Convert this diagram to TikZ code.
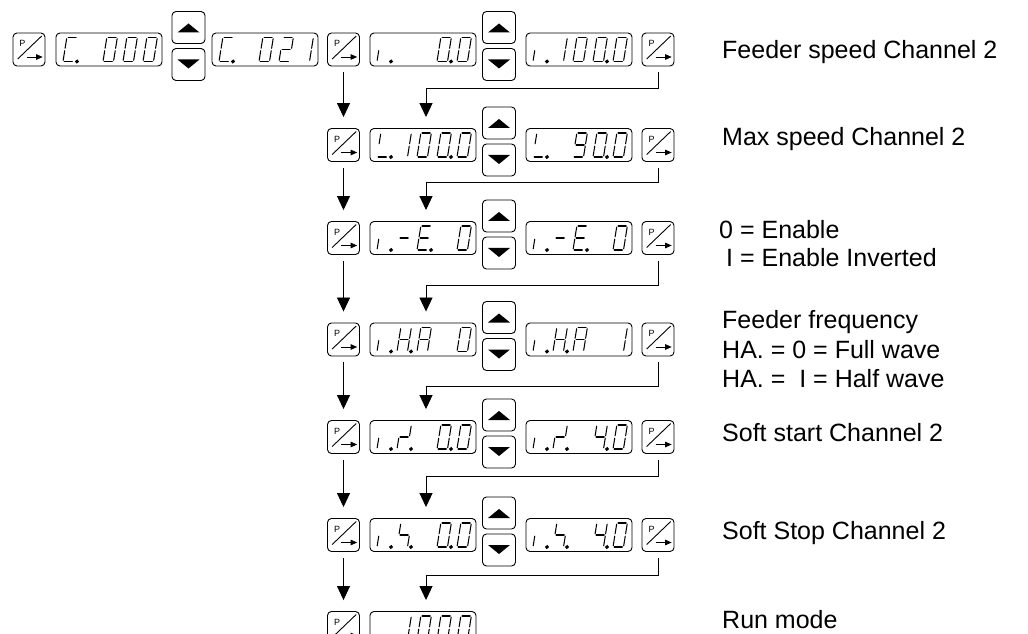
\documentclass[tikz,border=0pt]{standalone}
\usepackage{fontspec}
\setmainfont{Liberation Sans}
\usetikzlibrary{arrows.meta,calc}

\tikzset{
  box/.style={draw, rounded corners=4bp, line width=0.9bp, inner sep=0pt},
  pbtn/.style={box, minimum width=32bp, minimum height=33bp},
  disp/.style={box, minimum width=106bp, minimum height=33bp},
  udbtn/.style={box, minimum width=33bp, minimum height=32bp},
  thinl/.style={line width=0.9bp},
  pfont/.style={inner sep=0pt, font=\fontsize{9bp}{9bp}\selectfont},
  conn/.style={draw, line width=0.9bp, -{Triangle[width=13bp,length=14bp]}, shorten <=6bp, shorten >=11bp},
  lbl/.style={anchor=base west, inner sep=0pt, font=\fontsize{25bp}{28bp}\selectfont},
  segline/.style={draw, line width=1.05bp, line cap=round},
  sega/.style={insert path={(1.2,24)--(9.3,24)}},
  segb/.style={insert path={(10.5,22.8)--(10.5,13.2)}},
  segc/.style={insert path={(10.5,10.8)--(10.5,1.2)}},
  segd/.style={insert path={(1.2,0)--(9.3,0)}},
  sege/.style={insert path={(0,1.2)--(0,10.8)}},
  segf/.style={insert path={(0,13.2)--(0,22.8)}},
  segg/.style={insert path={(1.2,12)--(9.3,12)}},
  segp/.style={fill, insert path={(14,0) circle[radius=1.4]}},
}

% one seven-segment character: display left, row centre, position, segments
\newcommand\mydig[4]{%
  \begin{scope}[shift={({#1+7+20*(#3-1)},{#2+12})}, xslant=0.16, yscale=-1]
    \foreach \s in {#4}{\path[segline,seg\s];}
  \end{scope}}

% P key: name, x, y
\newcommand\mypkey[3]{%
  \node[pbtn] (#1) at (#2,#3) {};
  \node[pfont] at ($(#1)+(-6.5,-6)$) {P};
  \draw[thinl] ($(#1)+(-11.3,9.5)$) -- ($(#1)+(12.7,-13.5)$);
  \draw[thinl,-{Triangle[width=5.5bp,length=6.5bp]}] ($(#1)+(-2.3,7.5)$) -- ($(#1)+(13.7,7.5)$);
}

% up/down keys: name, x, row centre
\newcommand\myud[3]{%
  \node[udbtn] (#1u) at ({#2},{#3-22}) {};
  \fill ($(#1u)+(-11,5)$) -- ($(#1u)+(11,5)$) -- ($(#1u)+(0,-4)$) -- cycle;
  \node[udbtn] (#1d) at ({#2},{#3+15}) {};
  \fill ($(#1d)+(-11,-5)$) -- ($(#1d)+(11,-5)$) -- ($(#1d)+(0,4)$) -- cycle;
}

% display frame: name, left, row centre
\newcommand\mydisp[3]{%
  \node[disp] (#1) at ({#2+53},{#3}) {};
}

\begin{document}
\begin{tikzpicture}[x=1bp,y=-1bp]
\useasboundingbox (0,0) rectangle (1028,634);
\clip (0,0) rectangle (1028,634);

% ---------- row 1 ----------
\mypkey{pa1}{29}{49.5}
\mydisp{da1}{56}{49.5}
\mydig{56}{49.5}{1}{a,d,e,f,p}
\mydig{56}{49.5}{3}{a,b,c,d,e,f}
\mydig{56}{49.5}{4}{a,b,c,d,e,f}
\mydig{56}{49.5}{5}{a,b,c,d,e,f}
\myud{ua1}{188.5}{49.5}
\mydisp{db1}{212}{49.5}
\mydig{212}{49.5}{1}{a,d,e,f,p}
\mydig{212}{49.5}{3}{a,b,c,d,e,f}
\mydig{212}{49.5}{4}{a,b,g,e,d}
\mydig{212}{49.5}{5}{b,c}
\mypkey{pb1}{343.5}{49.5}
\mydisp{dc1}{370}{49.5}
\mydig{370}{49.5}{1}{e,p}
\mydig{370}{49.5}{4}{a,b,c,d,e,f,p}
\mydig{370}{49.5}{5}{a,b,c,d,e,f}
\myud{ub1}{499}{49.5}
\mydisp{dd1}{526}{49.5}
\mydig{526}{49.5}{1}{e,p}
\mydig{526}{49.5}{2}{b,c}
\mydig{526}{49.5}{3}{a,b,c,d,e,f}
\mydig{526}{49.5}{4}{a,b,c,d,e,f,p}
\mydig{526}{49.5}{5}{a,b,c,d,e,f}
\mypkey{pc1}{658}{49.5}

% ---------- row 2 ----------
\mypkey{pb2}{343.5}{145}
\mydisp{dc2}{370}{145}
\mydig{370}{145}{1}{f,d,p}
\mydig{370}{145}{2}{b,c}
\mydig{370}{145}{3}{a,b,c,d,e,f}
\mydig{370}{145}{4}{a,b,c,d,e,f,p}
\mydig{370}{145}{5}{a,b,c,d,e,f}
\myud{ub2}{499}{145}
\mydisp{dd2}{526}{145}
\mydig{526}{145}{1}{f,d,p}
\mydig{526}{145}{3}{a,b,c,d,f,g}
\mydig{526}{145}{4}{a,b,c,d,e,f,p}
\mydig{526}{145}{5}{a,b,c,d,e,f}
\mypkey{pc2}{658}{145}

% ---------- row 3 ----------
\mypkey{pb3}{343.5}{238}
\mydisp{dc3}{370}{238}
\mydig{370}{238}{1}{e,p}
\mydig{370}{238}{2}{g}
\mydig{370}{238}{3}{a,d,e,f,g,p}
\mydig{370}{238}{5}{a,b,c,d,e,f}
\myud{ub3}{499}{238}
\mydisp{dd3}{526}{238}
\mydig{526}{238}{1}{e,p}
\mydig{526}{238}{2}{g}
\mydig{526}{238}{3}{a,d,e,f,g,p}
\mydig{526}{238}{5}{a,b,c,d,e,f}
\mypkey{pc3}{658}{238}

% ---------- row 4 ----------
\mypkey{pb4}{343.5}{339.5}
\mydisp{dc4}{370}{339.5}
\mydig{370}{339.5}{1}{e,p}
\mydig{370}{339.5}{2}{b,c,e,f,g,p}
\mydig{370}{339.5}{3}{a,b,c,e,f,g}
\mydig{370}{339.5}{5}{a,b,c,d,e,f}
\myud{ub4}{499}{339.5}
\mydisp{dd4}{526}{339.5}
\mydig{526}{339.5}{1}{e,p}
\mydig{526}{339.5}{2}{b,c,e,f,g,p}
\mydig{526}{339.5}{3}{a,b,c,e,f,g}
\mydig{526}{339.5}{5}{b,c}
\mypkey{pc4}{658}{339.5}

% ---------- row 5 ----------
\mypkey{pb5}{343.5}{437}
\mydisp{dc5}{370}{437}
\mydig{370}{437}{1}{e,p}
\mydig{370}{437}{2}{e,g,b,p}
\mydig{370}{437}{4}{a,b,c,d,e,f,p}
\mydig{370}{437}{5}{a,b,c,d,e,f}
\myud{ub5}{499}{437}
\mydisp{dd5}{526}{437}
\mydig{526}{437}{1}{e,p}
\mydig{526}{437}{2}{e,g,b,p}
\mydig{526}{437}{4}{b,c,f,g,p}
\mydig{526}{437}{5}{a,b,c,d,e,f}
\mypkey{pc5}{658}{437}

% ---------- row 6 ----------
\mypkey{pb6}{343.5}{535}
\mydisp{dc6}{370}{535}
\mydig{370}{535}{1}{e,p}
\mydig{370}{535}{2}{f,g,c,p}
\mydig{370}{535}{4}{a,b,c,d,e,f,p}
\mydig{370}{535}{5}{a,b,c,d,e,f}
\myud{ub6}{499}{535}
\mydisp{dd6}{526}{535}
\mydig{526}{535}{1}{e,p}
\mydig{526}{535}{2}{f,g,c,p}
\mydig{526}{535}{4}{b,c,f,g,p}
\mydig{526}{535}{5}{a,b,c,d,e,f}
\mypkey{pc6}{658}{535}

% ---------- row 7 ----------
\mypkey{pb7}{343.5}{628}
\mydisp{dc7}{370}{628}
\mydig{370}{628}{2}{b,c}
\mydig{370}{628}{3}{a,b,c,d,e,f}
\mydig{370}{628}{4}{a,b,c,d,e,f,p}
\mydig{370}{628}{5}{a,b,c,d,e,f}

% ---------- connectors ----------
\draw[conn] (pb1.south) -- (pb2.north);
\draw[conn] (pb2.south) -- (pb3.north);
\draw[conn] (pb3.south) -- (pb4.north);
\draw[conn] (pb4.south) -- (pb5.north);
\draw[conn] (pb5.south) -- (pb6.north);
\draw[conn] (pb6.south) -- (pb7.north);

\coordinate (h1) at (426,88);
\coordinate (h2) at (426,182);
\coordinate (h3) at (426,285);
\coordinate (h4) at (426,386);
\coordinate (h5) at (426,476);
\coordinate (h6) at (426,575);
\draw[conn] (pc1.south) |- (h1) -- (h1 |- dc2.north);
\draw[conn] (pc2.south) |- (h2) -- (h2 |- dc3.north);
\draw[conn] (pc3.south) |- (h3) -- (h3 |- dc4.north);
\draw[conn] (pc4.south) |- (h4) -- (h4 |- dc5.north);
\draw[conn] (pc5.south) |- (h5) -- (h5 |- dc6.north);
\draw[conn] (pc6.south) |- (h6) -- (h6 |- dc7.north);

% ---------- labels ----------
\node[lbl] (t1) at (722,59) {Feeder speed Channel 2};
\node[lbl] (t2) at (722,146) {Max speed Channel 2};
\node[lbl] (t3) at (719,239) {0 = Enable};
\node[lbl] (t4) at (726,267) {I = Enable Inverted};
\node[lbl] (t5) at (722,328) {Feeder frequency};
\node[lbl] (t6) at (722,358) {HA. = 0 = Full wave};
\node[lbl] (t7) at (722,387) {HA. =\ \ I = Half wave};
\node[lbl] (t8) at (722,441) {Soft start Channel 2};
\node[lbl] (t9) at (722,539) {Soft Stop Channel 2};
\node[lbl] (t10) at (722,628) {Run mode};
\end{tikzpicture}
\end{document}
